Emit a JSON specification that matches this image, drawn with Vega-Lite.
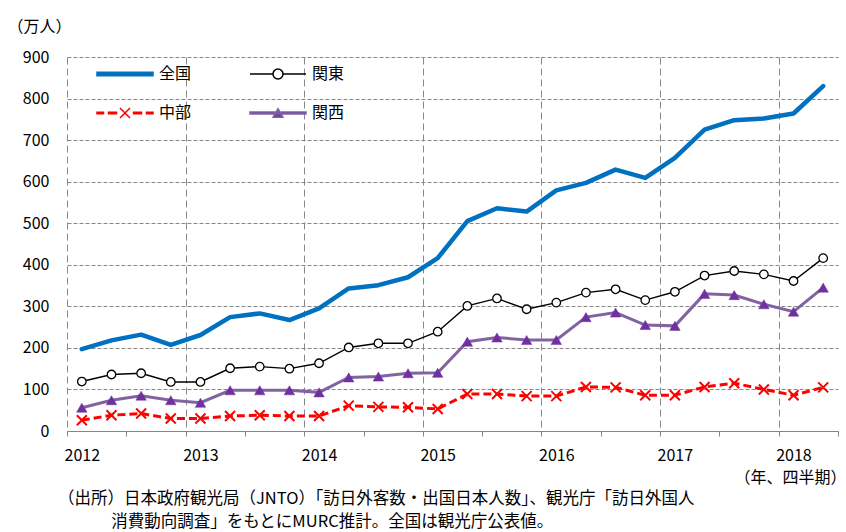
{
  "$schema": "https://vega.github.io/schema/vega-lite/v6.json",
  "autosize": {"type": "none"},
  "padding": {"left": 67, "top": 57, "right": 8, "bottom": 101},
  "width": 771,
  "height": 374,
  "config": {
    "font": "Noto Sans CJK JP",
    "view": {"stroke": null},
    "axis": {"labelFont": "Noto Sans CJK JP", "titleFont": "Noto Sans CJK JP", "labelColor": "#000000", "titleColor": "#000000", "labelFontSize": 16, "titleFontSize": 16, "titleFontWeight": "normal"}
  },
  "title": {
    "text": ["（出所）日本政府観光局（JNTO）「訪日外客数・出国日本人数」、観光庁「訪日外国人", "​　　　 消費動向調査」をもとにMURC推計。全国は観光庁公表値。"],
    "orient": "bottom",
    "anchor": "start",
    "frame": "group",
    "fontSize": 16.5,
    "fontWeight": "normal",
    "font": "Noto Sans CJK JP",
    "color": "#000000",
    "lineHeight": 23,
    "dx": -9,
    "offset": 6
  },
  "data": {
    "values": [
      {"quarter": "2012Q1", "t": 2012.125, "region": "全国", "value": 197},
      {"quarter": "2012Q2", "t": 2012.375, "region": "全国", "value": 218},
      {"quarter": "2012Q3", "t": 2012.625, "region": "全国", "value": 232},
      {"quarter": "2012Q4", "t": 2012.875, "region": "全国", "value": 207},
      {"quarter": "2013Q1", "t": 2013.125, "region": "全国", "value": 231},
      {"quarter": "2013Q2", "t": 2013.375, "region": "全国", "value": 274},
      {"quarter": "2013Q3", "t": 2013.625, "region": "全国", "value": 283},
      {"quarter": "2013Q4", "t": 2013.875, "region": "全国", "value": 267},
      {"quarter": "2014Q1", "t": 2014.125, "region": "全国", "value": 295},
      {"quarter": "2014Q2", "t": 2014.375, "region": "全国", "value": 343},
      {"quarter": "2014Q3", "t": 2014.625, "region": "全国", "value": 351},
      {"quarter": "2014Q4", "t": 2014.875, "region": "全国", "value": 370},
      {"quarter": "2015Q1", "t": 2015.125, "region": "全国", "value": 416},
      {"quarter": "2015Q2", "t": 2015.375, "region": "全国", "value": 505},
      {"quarter": "2015Q3", "t": 2015.625, "region": "全国", "value": 536},
      {"quarter": "2015Q4", "t": 2015.875, "region": "全国", "value": 528},
      {"quarter": "2016Q1", "t": 2016.125, "region": "全国", "value": 579},
      {"quarter": "2016Q2", "t": 2016.375, "region": "全国", "value": 597},
      {"quarter": "2016Q3", "t": 2016.625, "region": "全国", "value": 629},
      {"quarter": "2016Q4", "t": 2016.875, "region": "全国", "value": 609},
      {"quarter": "2017Q1", "t": 2017.125, "region": "全国", "value": 657},
      {"quarter": "2017Q2", "t": 2017.375, "region": "全国", "value": 725},
      {"quarter": "2017Q3", "t": 2017.625, "region": "全国", "value": 748},
      {"quarter": "2017Q4", "t": 2017.875, "region": "全国", "value": 752},
      {"quarter": "2018Q1", "t": 2018.125, "region": "全国", "value": 764},
      {"quarter": "2018Q2", "t": 2018.375, "region": "全国", "value": 830},
      {"quarter": "2012Q1", "t": 2012.125, "region": "関東", "value": 119},
      {"quarter": "2012Q2", "t": 2012.375, "region": "関東", "value": 136},
      {"quarter": "2012Q3", "t": 2012.625, "region": "関東", "value": 139},
      {"quarter": "2012Q4", "t": 2012.875, "region": "関東", "value": 118},
      {"quarter": "2013Q1", "t": 2013.125, "region": "関東", "value": 118},
      {"quarter": "2013Q2", "t": 2013.375, "region": "関東", "value": 151},
      {"quarter": "2013Q3", "t": 2013.625, "region": "関東", "value": 155},
      {"quarter": "2013Q4", "t": 2013.875, "region": "関東", "value": 150},
      {"quarter": "2014Q1", "t": 2014.125, "region": "関東", "value": 163},
      {"quarter": "2014Q2", "t": 2014.375, "region": "関東", "value": 201},
      {"quarter": "2014Q3", "t": 2014.625, "region": "関東", "value": 211},
      {"quarter": "2014Q4", "t": 2014.875, "region": "関東", "value": 211},
      {"quarter": "2015Q1", "t": 2015.125, "region": "関東", "value": 239},
      {"quarter": "2015Q2", "t": 2015.375, "region": "関東", "value": 301},
      {"quarter": "2015Q3", "t": 2015.625, "region": "関東", "value": 319},
      {"quarter": "2015Q4", "t": 2015.875, "region": "関東", "value": 293},
      {"quarter": "2016Q1", "t": 2016.125, "region": "関東", "value": 309},
      {"quarter": "2016Q2", "t": 2016.375, "region": "関東", "value": 333},
      {"quarter": "2016Q3", "t": 2016.625, "region": "関東", "value": 341},
      {"quarter": "2016Q4", "t": 2016.875, "region": "関東", "value": 315},
      {"quarter": "2017Q1", "t": 2017.125, "region": "関東", "value": 335},
      {"quarter": "2017Q2", "t": 2017.375, "region": "関東", "value": 374},
      {"quarter": "2017Q3", "t": 2017.625, "region": "関東", "value": 385},
      {"quarter": "2017Q4", "t": 2017.875, "region": "関東", "value": 377},
      {"quarter": "2018Q1", "t": 2018.125, "region": "関東", "value": 361},
      {"quarter": "2018Q2", "t": 2018.375, "region": "関東", "value": 416},
      {"quarter": "2012Q1", "t": 2012.125, "region": "中部", "value": 26},
      {"quarter": "2012Q2", "t": 2012.375, "region": "中部", "value": 38},
      {"quarter": "2012Q3", "t": 2012.625, "region": "中部", "value": 42},
      {"quarter": "2012Q4", "t": 2012.875, "region": "中部", "value": 30},
      {"quarter": "2013Q1", "t": 2013.125, "region": "中部", "value": 30},
      {"quarter": "2013Q2", "t": 2013.375, "region": "中部", "value": 36},
      {"quarter": "2013Q3", "t": 2013.625, "region": "中部", "value": 38},
      {"quarter": "2013Q4", "t": 2013.875, "region": "中部", "value": 36},
      {"quarter": "2014Q1", "t": 2014.125, "region": "中部", "value": 36},
      {"quarter": "2014Q2", "t": 2014.375, "region": "中部", "value": 61},
      {"quarter": "2014Q3", "t": 2014.625, "region": "中部", "value": 58},
      {"quarter": "2014Q4", "t": 2014.875, "region": "中部", "value": 57},
      {"quarter": "2015Q1", "t": 2015.125, "region": "中部", "value": 53},
      {"quarter": "2015Q2", "t": 2015.375, "region": "中部", "value": 89},
      {"quarter": "2015Q3", "t": 2015.625, "region": "中部", "value": 89},
      {"quarter": "2015Q4", "t": 2015.875, "region": "中部", "value": 84},
      {"quarter": "2016Q1", "t": 2016.125, "region": "中部", "value": 84},
      {"quarter": "2016Q2", "t": 2016.375, "region": "中部", "value": 106},
      {"quarter": "2016Q3", "t": 2016.625, "region": "中部", "value": 105},
      {"quarter": "2016Q4", "t": 2016.875, "region": "中部", "value": 86},
      {"quarter": "2017Q1", "t": 2017.125, "region": "中部", "value": 86},
      {"quarter": "2017Q2", "t": 2017.375, "region": "中部", "value": 106},
      {"quarter": "2017Q3", "t": 2017.625, "region": "中部", "value": 115},
      {"quarter": "2017Q4", "t": 2017.875, "region": "中部", "value": 100},
      {"quarter": "2018Q1", "t": 2018.125, "region": "中部", "value": 86},
      {"quarter": "2018Q2", "t": 2018.375, "region": "中部", "value": 105},
      {"quarter": "2012Q1", "t": 2012.125, "region": "関西", "value": 56},
      {"quarter": "2012Q2", "t": 2012.375, "region": "関西", "value": 74},
      {"quarter": "2012Q3", "t": 2012.625, "region": "関西", "value": 85},
      {"quarter": "2012Q4", "t": 2012.875, "region": "関西", "value": 74},
      {"quarter": "2013Q1", "t": 2013.125, "region": "関西", "value": 68},
      {"quarter": "2013Q2", "t": 2013.375, "region": "関西", "value": 98},
      {"quarter": "2013Q3", "t": 2013.625, "region": "関西", "value": 98},
      {"quarter": "2013Q4", "t": 2013.875, "region": "関西", "value": 98},
      {"quarter": "2014Q1", "t": 2014.125, "region": "関西", "value": 93},
      {"quarter": "2014Q2", "t": 2014.375, "region": "関西", "value": 129},
      {"quarter": "2014Q3", "t": 2014.625, "region": "関西", "value": 131},
      {"quarter": "2014Q4", "t": 2014.875, "region": "関西", "value": 139},
      {"quarter": "2015Q1", "t": 2015.125, "region": "関西", "value": 140},
      {"quarter": "2015Q2", "t": 2015.375, "region": "関西", "value": 215},
      {"quarter": "2015Q3", "t": 2015.625, "region": "関西", "value": 225},
      {"quarter": "2015Q4", "t": 2015.875, "region": "関西", "value": 219},
      {"quarter": "2016Q1", "t": 2016.125, "region": "関西", "value": 219},
      {"quarter": "2016Q2", "t": 2016.375, "region": "関西", "value": 274},
      {"quarter": "2016Q3", "t": 2016.625, "region": "関西", "value": 285},
      {"quarter": "2016Q4", "t": 2016.875, "region": "関西", "value": 255},
      {"quarter": "2017Q1", "t": 2017.125, "region": "関西", "value": 253},
      {"quarter": "2017Q2", "t": 2017.375, "region": "関西", "value": 330},
      {"quarter": "2017Q3", "t": 2017.625, "region": "関西", "value": 327},
      {"quarter": "2017Q4", "t": 2017.875, "region": "関西", "value": 305},
      {"quarter": "2018Q1", "t": 2018.125, "region": "関西", "value": 287},
      {"quarter": "2018Q2", "t": 2018.375, "region": "関西", "value": 345}
    ]
  },
  "encoding": {
    "x": {
      "field": "t",
      "type": "quantitative",
      "scale": {"domain": [2012, 2018.5], "nice": false, "zero": false},
      "axis": {
        "title": "（年、四半期）",
        "titleX": 779,
        "titleY": 46,
        "titleAlign": "right",
        "titleBaseline": "middle",
        "titleAngle": 0,
        "values": [2012, 2012.5, 2013, 2013.5, 2014, 2014.5, 2015, 2015.5, 2016, 2016.5, 2017, 2017.5, 2018, 2018.5],
        "labelExpr": "datum.value % 1 === 0 ? '' + datum.value : ''",
        "labelOffset": 14.8,
        "labelFlush": false,
        "labelOverlap": false,
        "labelBound": false,
        "labelPadding": 11,
        "tickSize": 5,
        "tickColor": "#868686",
        "domainColor": "#868686",
        "domainWidth": 1,
        "grid": true,
        "gridColor": "#888888",
        "gridWidth": 1,
        "gridDash": [7, 4],
        "gridOpacity": {"condition": {"test": "datum.value % 1 === 0 && datum.value < 2018.5", "value": 1}, "value": 0}
      }
    },
    "y": {
      "field": "value",
      "type": "quantitative",
      "scale": {"domain": [0, 900], "nice": false},
      "axis": {
        "title": "（万人）",
        "titleAngle": 0,
        "titleAlign": "left",
        "titleBaseline": "middle",
        "titleX": -60,
        "titleY": -31,
        "values": [0, 100, 200, 300, 400, 500, 600, 700, 800, 900],
        "domain": false,
        "ticks": false,
        "labelPadding": 18,
        "grid": true,
        "gridColor": "#888888",
        "gridWidth": 1,
        "gridDash": [4, 2]
      }
    }
  },
  "layer": [
    {
      "transform": [{"filter": {"field": "region", "equal": "全国"}}],
      "mark": {"type": "line", "color": "#0070C0", "strokeWidth": 4.5, "strokeJoin": "round", "strokeCap": "round"}
    },
    {
      "transform": [{"filter": {"field": "region", "equal": "関東"}}],
      "mark": {"type": "line", "color": "#000000", "strokeWidth": 1.4}
    },
    {
      "transform": [{"filter": {"field": "region", "equal": "関東"}}],
      "mark": {"type": "point", "shape": "circle", "size": 72, "filled": true, "fill": "#ffffff", "stroke": "#000000", "strokeWidth": 1.3, "opacity": 1}
    },
    {
      "transform": [{"filter": {"field": "region", "equal": "中部"}}],
      "mark": {"type": "line", "color": "#FF0000", "strokeWidth": 3, "strokeDash": [8, 4]}
    },
    {
      "transform": [{"filter": {"field": "region", "equal": "中部"}}],
      "mark": {"type": "point", "shape": "M-1,-1L1,1M-1,1L1,-1", "size": 100, "filled": false, "stroke": "#FF0000", "strokeWidth": 2, "opacity": 1}
    },
    {
      "transform": [{"filter": {"field": "region", "equal": "関西"}}],
      "mark": {"type": "line", "color": "#8064A2", "strokeWidth": 3}
    },
    {
      "transform": [{"filter": {"field": "region", "equal": "関西"}}],
      "mark": {"type": "point", "shape": "triangle-up", "size": 110, "filled": true, "fill": "#7030A0", "stroke": "#7030A0", "strokeWidth": 0.5, "opacity": 1}
    },
    {
      "transform": [{"filter": "false"}],
      "mark": {"type": "point", "filled": true, "opacity": 1, "strokeWidth": 1.5},
      "encoding": {
        "shape": {
          "field": "region",
          "type": "nominal",
          "scale": {
            "domain": ["全国", "関東", "中部", "関西"],
            "range": [
              "M-2.8,-0.17H2.8V0.17H-2.8Z",
              "M-2.8,0H-0.5M0.5,0H2.8M0.5,0A0.5,0.5,0,1,1,-0.5,0A0.5,0.5,0,1,1,0.5,0Z",
              "M-2.8,-0.08H-2.15V0.08H-2.8ZM-1.65,-0.08H-0.85V0.08H-1.65ZM0.85,-0.08H1.65V0.08H0.85ZM2.15,-0.08H2.8V0.08H2.15ZM-0.5,-0.5L0.5,0.5M-0.5,0.5L0.5,-0.5",
              "M-2.8,-0.1H2.8V0.1H-2.8ZM-0.5,0.43L0,-0.43L0.5,0.43Z"
            ]
          },
          "legend": {
            "title": null,
            "orient": "none",
            "legendX": 47,
            "legendY": 6,
            "columns": 2,
            "direction": "horizontal",
            "symbolSize": 400,
            "symbolStrokeWidth": 1.5,
            "labelFontSize": 16,
            "labelFont": "Noto Sans CJK JP",
            "labelColor": "#000000",
            "labelOffset": 23,
            "rowPadding": 20,
            "columnPadding": 55,
            "padding": 0
          }
        },
        "fill": {
          "field": "region",
          "type": "nominal",
          "scale": {"domain": ["全国", "関東", "中部", "関西"], "range": ["#0070C0", "#ffffff", "#FF0000", "#7030A0"]},
          "legend": {
            "title": null,
            "orient": "none",
            "legendX": 47,
            "legendY": 6,
            "columns": 2,
            "direction": "horizontal",
            "symbolSize": 400,
            "symbolStrokeWidth": 1.5,
            "labelFontSize": 16,
            "labelFont": "Noto Sans CJK JP",
            "labelColor": "#000000",
            "labelOffset": 23,
            "rowPadding": 20,
            "columnPadding": 55,
            "padding": 0
          }
        },
        "stroke": {
          "field": "region",
          "type": "nominal",
          "scale": {"domain": ["全国", "関東", "中部", "関西"], "range": ["#0070C0", "#000000", "#FF0000", "#8064A2"]},
          "legend": {
            "title": null,
            "orient": "none",
            "legendX": 47,
            "legendY": 6,
            "columns": 2,
            "direction": "horizontal",
            "symbolSize": 400,
            "symbolStrokeWidth": 1.5,
            "labelFontSize": 16,
            "labelFont": "Noto Sans CJK JP",
            "labelColor": "#000000",
            "labelOffset": 23,
            "rowPadding": 20,
            "columnPadding": 55,
            "padding": 0
          }
        }
      }
    }
  ]
}
